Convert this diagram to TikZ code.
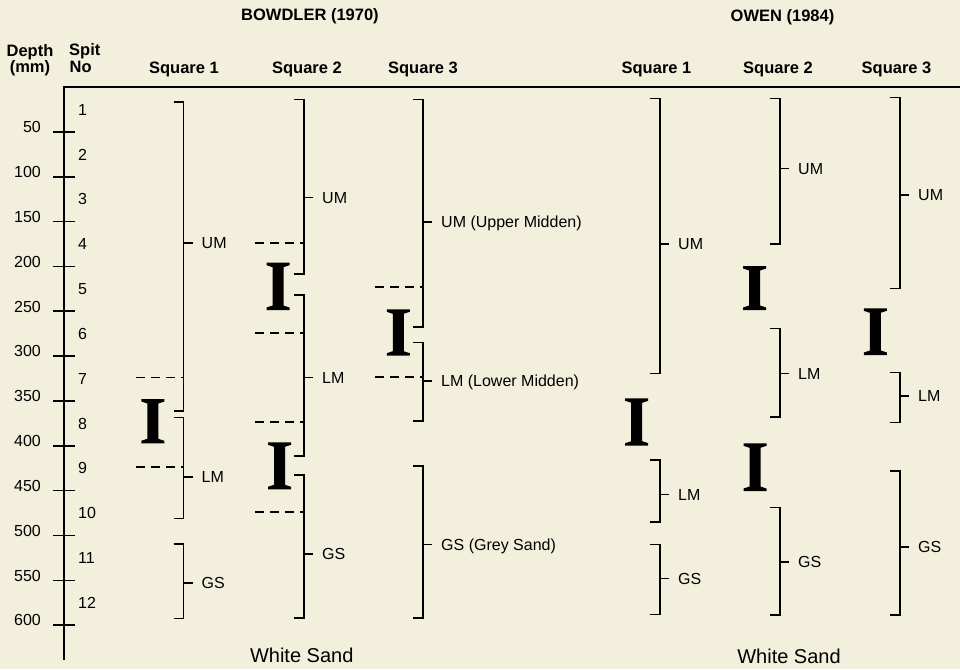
\documentclass[tikz,border=0pt]{standalone}
\usepackage{fontspec}
\setmainfont{Liberation Sans}
\definecolor{paper}{RGB}{243,239,221}
\tikzset{
  brk/.style={line width=1.6pt, line join=miter},
  axisline/.style={line width=1.6pt},
  dsh/.style={line width=1.6pt, dash pattern=on 9pt off 6pt},
  lab/.style={font=\fontsize{16}{18}\selectfont, inner sep=0pt, text height=11.5pt, text depth=0pt, anchor=west},
  hdr/.style={font=\fontsize{16.5}{19}\selectfont\bfseries, inner sep=0pt, anchor=base},
  sand/.style={font=\fontsize{20}{22}\selectfont, inner sep=0pt},
}
% #1 name, #2 x, #3 top, #4 bottom, #5 mid, #6 label
\newcommand{\strat}[6]{%
  \draw[brk] ({#2-10},#3) -- (#2,#3) -- (#2,#4) -- ({#2-10},#4);
  \draw[brk] (#2,#5) -- ({#2+9},#5);
  \node[lab] (#1) at ({#2+18},#5) {#6};
}
% #1 centre x, #2 top, #3 bottom
\newcommand{\ibeam}[3]{%
  \fill ({#1-11.5},#2) -- ({#1+11.5},#2) -- ({#1+11.5},{#2+2.5}) -- ({#1+5.5},{#2+4.5})
    -- ({#1+5.5},{#3-4.5}) -- ({#1+11.5},{#3-2.5}) -- ({#1+11.5},#3) -- ({#1-11.5},#3)
    -- ({#1-11.5},{#3-2.5}) -- ({#1-5.5},{#3-4.5}) -- ({#1-5.5},{#2+4.5}) -- ({#1-11.5},{#2+2.5}) -- cycle;
}
\begin{document}
\begin{tikzpicture}[x=1pt,y=-1pt]
\fill[paper] (0,0) rectangle (960,669);
\useasboundingbox (0,0) rectangle (960,669);

% headings
\node[hdr] (bowdler) at (310,20.7) {BOWDLER (1970)};
\node[hdr] (owen) at (782.5,21.5) {OWEN (1984)};
\node[hdr] (depth) at (30,56.5) {Depth};
\node[hdr] (mm) at (30,72.5) {(mm)};
\node[hdr, anchor=base west] (spit) at (69,56) {Spit};
\node[hdr, anchor=base west] (no) at (69.5,72) {No};
\node[hdr] (b1) at (184,74) {Square 1};
\node[hdr] (b2) at (307,74) {Square 2};
\node[hdr] (b3) at (423,74) {Square 3};
\node[hdr] (o1) at (656.5,74) {Square 1};
\node[hdr] (o2) at (778,74) {Square 2};
\node[hdr] (o3) at (896.5,74) {Square 3};

% axes
\draw[axisline] (64,660) -- (64,87) -- (960,87);
\foreach \d in {50,100,...,600}{
  \draw[axisline] (53,{87+0.897*\d}) -- (75,{87+0.897*\d});
  \node[lab, anchor=east] (d\d) at (41,{82+0.897*\d}) {\d};
}
\foreach \n in {1,...,12}{
  \node[lab] (s\n) at (78,{87+0.897*(50*\n-25)}) {\n};
}

% Bowdler square 1
\strat{bum1}{183.5}{102}{410.7}{243}{UM}
\strat{blm1}{183.5}{417.3}{518.3}{476.7}{LM}
\strat{bgs1}{183.5}{544}{618.3}{582.7}{GS}
\draw[dsh] (136,377.3) -- (183.5,377.3);
\draw[dsh] (136,466.7) -- (183.5,466.7);
\ibeam{152.8}{399}{443.3}

% Bowdler square 2
\strat{bum2}{304}{99.3}{274}{197.3}{UM}
\strat{blm2}{304}{295}{456}{377.3}{LM}
\strat{bgs2}{304}{475}{617.7}{554}{GS}
\draw[dsh] (255,242.7) -- (304,242.7);
\draw[dsh] (255,332.7) -- (304,332.7);
\draw[dsh] (255,421.7) -- (304,421.7);
\draw[dsh] (255,511.7) -- (304,511.7);
\ibeam{278}{262.7}{310}
\ibeam{279.5}{442.3}{489.3}

% Bowdler square 3
\strat{bum3}{423}{99.3}{326.7}{221.7}{UM (Upper Midden)}
\strat{blm3}{423}{342.3}{420.7}{380.7}{LM (Lower Midden)}
\strat{bgs3}{423}{466}{617.7}{544.3}{GS (Grey Sand)}
\draw[dsh] (375,286.7) -- (423,286.7);
\draw[dsh] (375,376.7) -- (423,376.7);
\ibeam{398.3}{309.3}{355.7}

\node[sand] (ws1) at (301.7,655) {White Sand};

% Owen square 1
\strat{oum1}{660}{98.3}{373.3}{244}{UM}
\strat{olm1}{660}{460}{521.7}{494.3}{LM}
\strat{ogs1}{660}{544.3}{614.3}{578.3}{GS}
\ibeam{636.7}{398.3}{445.7}

% Owen square 2
\strat{oum2}{780}{98.3}{244}{168.3}{UM}
\strat{olm2}{780}{328.3}{416.7}{373.3}{LM}
\strat{ogs2}{780}{507.3}{615}{561.7}{GS}
\ibeam{754.5}{266}{310}
\ibeam{755}{443.3}{491}

% Owen square 3
\strat{oum3}{900}{97.3}{288.3}{195}{UM}
\strat{olm3}{900}{372.3}{422.3}{396}{LM}
\strat{ogs3}{900}{471}{615}{546.7}{GS}
\ibeam{875.3}{308.3}{355}

\node[sand] (ws2) at (789,656.7) {White Sand};
\end{tikzpicture}
\end{document}
